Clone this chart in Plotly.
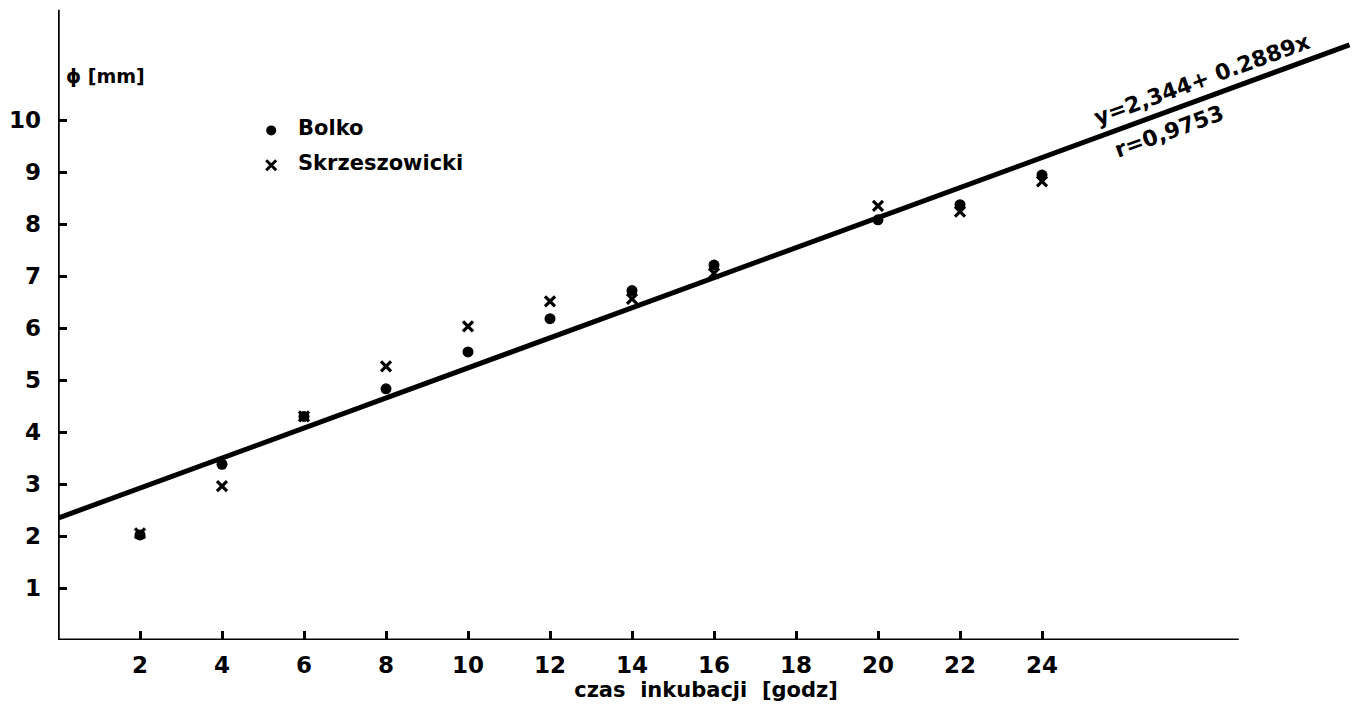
import plotly.graph_objects as go

# Data
hours = [2, 4, 6, 8, 10, 12, 14, 16, 20, 22, 24]
bolko = [2.02, 3.38, 4.30, 4.83, 5.54, 6.18, 6.72, 7.21, 8.08, 8.37, 8.94]
skrzeszowicki = [2.05, 2.96, 4.30, 5.26, 6.03, 6.51, 6.56, 7.05, 8.35, 8.24, 8.82]
fit_intercept = 2.344
fit_slope = 0.2889
fit_x = [0, 31.5]
x_ticks = [2, 4, 6, 8, 10, 12, 14, 16, 18, 20, 22, 24]
y_ticks = [1, 2, 3, 4, 5, 6, 7, 8, 9, 10]

FONT = "DejaVu Sans"
fit_y = [fit_intercept + fit_slope * v for v in fit_x]

fig = go.Figure()
fig.add_trace(go.Scatter(x=fit_x, y=fit_y, mode="lines",
                         line=dict(color="black", width=5), showlegend=False))
fig.add_trace(go.Scatter(x=hours, y=skrzeszowicki, mode="markers", name="Skrzeszowicki",
                         marker=dict(symbol="x-thin", size=10, color="black",
                                     line=dict(color="black", width=3.2)), showlegend=False))
fig.add_trace(go.Scatter(x=hours, y=bolko, mode="markers", name="Bolko",
                         marker=dict(symbol="circle", size=11, color="black"), showlegend=False))

# Axis lines (x axis shorter than the plotting area)
fig.add_shape(type="line", x0=0, x1=28.8, y0=0, y1=0, xref="x", yref="y",
              line=dict(color="black", width=3))
fig.add_shape(type="line", x0=0, x1=0, y0=0, y1=12.12, xref="x", yref="y",
              line=dict(color="black", width=3.5))

# Legend drawn as text + markers
fig.add_trace(go.Scatter(x=[5.2], y=[9.8], mode="markers",
                         marker=dict(symbol="circle", size=10, color="black"), showlegend=False))
fig.add_trace(go.Scatter(x=[5.2], y=[9.13], mode="markers",
                         marker=dict(symbol="x-thin", size=10, color="black",
                                     line=dict(color="black", width=3)), showlegend=False))
fig.add_annotation(x=5.8, y=9.85, xref="x", yref="y", text="Bolko", showarrow=False,
                   xanchor="left", font=dict(family=FONT, size=21, color="black", weight="bold"))
fig.add_annotation(x=5.8, y=9.18, xref="x", yref="y", text="Skrzeszowicki", showarrow=False,
                   xanchor="left", font=dict(family=FONT, size=21, color="black", weight="bold"))

# y axis unit label
fig.add_annotation(x=0.15, y=10.85, xref="x", yref="y", text="ϕ [mm]", showarrow=False,
                   xanchor="left", font=dict(family=FONT, size=19, color="black", weight="bold"))

# Regression text
fig.add_annotation(x=27.9, y=10.78, xref="x", yref="y", text="y=2,344+ 0.2889x",
                   showarrow=False, textangle=-20,
                   font=dict(family=FONT, size=22, color="black", weight="bold"))
fig.add_annotation(x=27.1, y=9.78, xref="x", yref="y", text="r=0,9753",
                   showarrow=False, textangle=-20,
                   font=dict(family=FONT, size=22, color="black", weight="bold"))

fig.update_layout(
    width=1354, height=712,
    margin=dict(l=58, r=0, t=0, b=72),
    paper_bgcolor="white", plot_bgcolor="white",
    xaxis=dict(range=[0, 1296 / 41], tickvals=x_ticks, ticks="inside", ticklen=9,
               tickwidth=2.5, tickcolor="black", showgrid=False, zeroline=False,
               showline=False, ticklabelstandoff=9,
               tickfont=dict(family=FONT, size=23, color="black", weight="bold"),
               title=dict(text="czas  inkubacji  [godz]", standoff=4,
                          font=dict(family=FONT, size=21, color="black", weight="bold"))),
    yaxis=dict(range=[0, 640 / 52], tickvals=y_ticks, ticks="inside", ticklen=9,
               tickwidth=2.5, tickcolor="black", showgrid=False, zeroline=False,
               showline=False, ticklabelstandoff=16,
               tickfont=dict(family=FONT, size=23, color="black", weight="bold")),
)

fig.write_html("out.html")
